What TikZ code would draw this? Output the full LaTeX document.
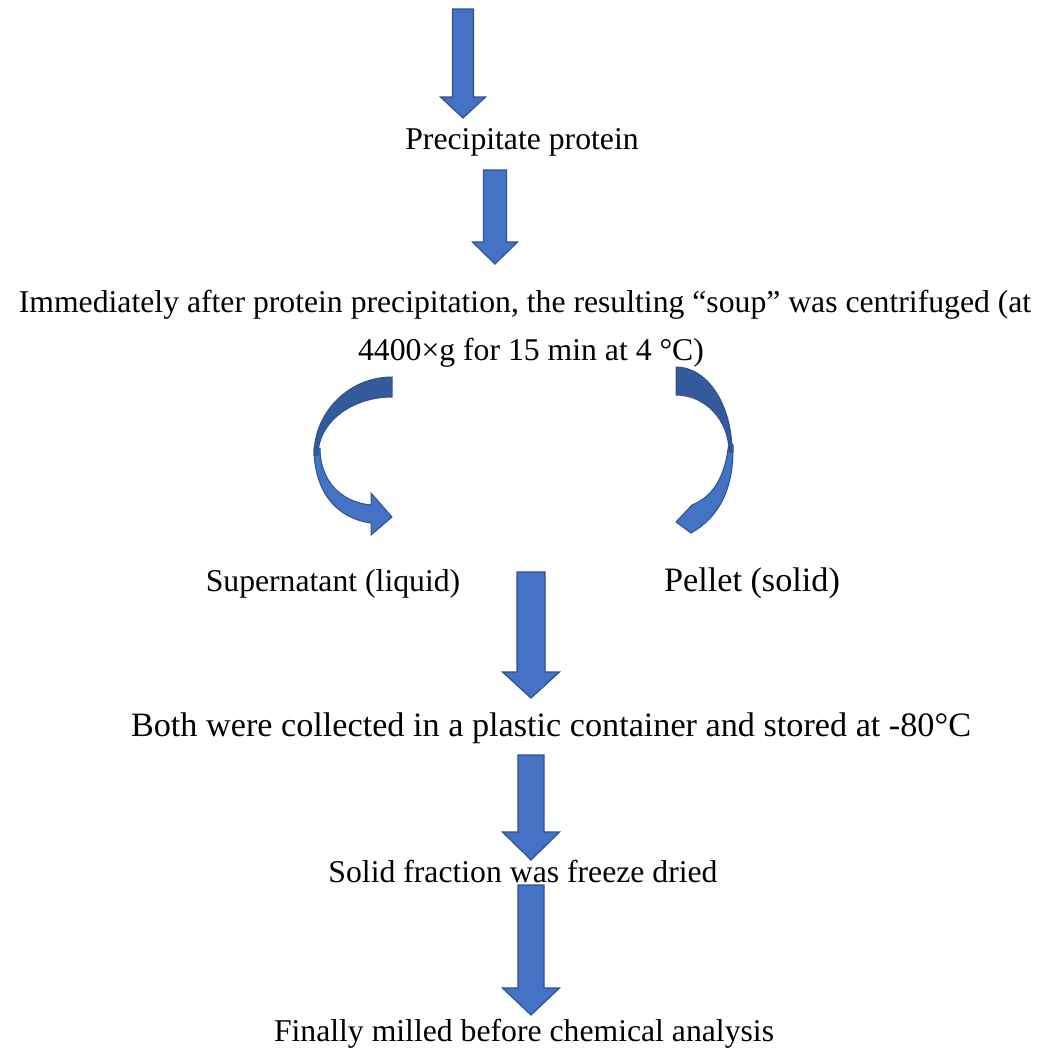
\documentclass[tikz,border=0pt]{standalone}
\usepackage{fontspec}
\setmainfont{Liberation Serif}
\usetikzlibrary{calc}
\definecolor{boxblue}{HTML}{4472C4}
\definecolor{edgeblue}{HTML}{2F528F}
\definecolor{shadeblue}{HTML}{335A9A}

% straight block arrow: start, tip, half shaft, half head, head length
\newcommand{\blockarrow}[5]{%
  \filldraw[blockarrow] ($(#1)+(-#3,0)$) -- ($(#2)+(-#3,-#5)$) -- ($(#2)+(-#4,-#5)$) -- (#2)
    -- ($(#2)+(#4,-#5)$) -- ($(#2)+(#3,-#5)$) -- ($(#1)+(#3,0)$) -- cycle;}

\begin{document}
\begin{tikzpicture}[
    x=1pt, y=-1pt,
    step text/.style={anchor=base, inner sep=0pt, font=\fontsize{31.7}{38}\selectfont},
    wide text/.style={step text, font=\fontsize{34.2}{40}\selectfont},
    blockarrow/.style={fill=boxblue, draw=edgeblue, line width=1.2pt, line join=miter},
    twistdark/.style={fill=shadeblue, draw=edgeblue, line width=1pt},
    twistlight/.style={fill=boxblue, draw=edgeblue, line width=1pt},
]
\useasboundingbox (0,0) rectangle (1046,1052);

% Steps
\node[step text] (precip) at (522, 149) {Precipitate protein};
\node[step text] (spin) at (525, 312) {Immediately after protein precipitation, the resulting “soup” was centrifuged (at};
\node[step text] (spincond) at (531, 360) {4400×g for 15 min at 4 °C)};
\node[step text] (super) at (333, 591) {Supernatant (liquid)};
\node[wide text] (pellet) at (752, 591) {Pellet (solid)};
\node[wide text] (store) at (551, 736) {Both were collected in a plastic container and stored at -80°C};
\node[step text] (dry) at (523, 882) {Solid fraction was freeze dried};
\node[step text] (mill) at (524, 1041) {Finally milled before chemical analysis};

% Arrow ends
\coordinate (a1s) at (463, 9);   \coordinate (a1e) at (463, 118);
\coordinate (a2s) at (495, 170); \coordinate (a2e) at (495, 264);
\coordinate (a3s) at (531, 572); \coordinate (a3e) at (531, 698);
\coordinate (a4s) at (531, 755); \coordinate (a4e) at (531, 860);
\coordinate (a5s) at (531, 885); \coordinate (a5e) at (531, 1015);

% Straight arrows
\blockarrow{a1s}{a1e}{10.5}{22.5}{21}
\blockarrow{a2s}{a2e}{11.5}{22.5}{22}
\blockarrow{a3s}{a3e}{14}{28.5}{26}
\blockarrow{a4s}{a4e}{13}{28.5}{28}
\blockarrow{a5s}{a5e}{13}{28.5}{27}

% Curved arrow to supernatant
\path[twistlight] (314,448) .. controls (314,490) and (335,518) .. (371,523) -- (371,535) -- (392,517)
    -- (371,493) -- (371,505) .. controls (340,502) and (320,480) .. (320,448) -- cycle;
\path[twistdark] (392,377) .. controls (349,377) and (314,412) .. (314,455) -- (318,455)
    .. controls (318,423) and (351,397) .. (392,397) -- cycle;

% Curved arrow to pellet
\path[twistlight] (729,440) .. controls (726,478) and (712,497) .. (692,505) -- (676,522) -- (691,533)
    .. controls (718,518) and (734,490) .. (733,445) -- cycle;
\path[twistdark] (676,367) .. controls (707,367) and (732,404) .. (732,452) -- (729,452)
    .. controls (729,420) and (705,395) .. (676,395) -- cycle;

\end{tikzpicture}
\end{document}
